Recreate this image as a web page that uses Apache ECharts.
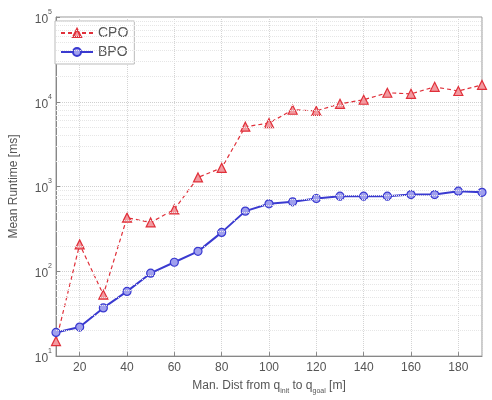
<!DOCTYPE html>
<html>
<head>
<meta charset="utf-8">
<script src="https://cdn.jsdelivr.net/npm/echarts@6/dist/echarts.min.js"></script>
<style>
  html, body { margin: 0; padding: 0; background: #fff; }
  #chart { width: 492px; height: 400px; }
</style>
</head>
<body>
<div id="chart"></div>
<script>
// Manhattan distance from start to goal [m]
const distances = [10, 20, 30, 40, 50, 60, 70, 80, 90, 100, 110, 120, 130, 140, 150, 160, 170, 180, 190];
// Mean runtime [ms]
const cpoRuntime = [15, 208, 53, 430, 377, 537, 1280, 1660, 5080, 5600, 8050, 7800, 9460, 10560, 12770, 12400, 15000, 13400, 15800];
const bpoRuntime = [19, 22, 37, 58, 95, 128, 172, 288, 513, 626, 660, 723, 769, 769, 770, 805, 805, 881, 855];
const seriesNames = ['CPO', 'BPO'];
const yMin = 10, yMax = 100000;

// minor log grid lines: 2..9 × each decade
const minorGrid = [];
for (let d = yMin; d < yMax; d *= 10) {
  for (let k = 2; k <= 9; k++) minorGrid.push({ yAxis: k * d });
}

const textColor = '#555';
const fontFamily = 'Liberation Sans, Arial, sans-serif';

const chart = echarts.init(document.getElementById('chart'), null, { renderer: 'canvas' });
chart.setOption({
  animation: false,
  backgroundColor: '#fff',
  textStyle: { fontFamily: fontFamily },
  grid: {
    left: 54, right: 10, top: 17, bottom: 43,
    show: true, borderColor: '#999', borderWidth: 1, backgroundColor: '#fff'
  },
  legend: {
    left: 55, top: 21, orient: 'vertical',
    itemWidth: 32, itemHeight: 10, itemGap: 5,
    padding: [5, 6, 5, 5],
    borderColor: '#bbb', borderWidth: 1, backgroundColor: '#fff',
    textStyle: { color: textColor, fontSize: 14, fontFamily: fontFamily },
    data: seriesNames
  },
  xAxis: {
    type: 'value', min: 10, max: 190,
    minInterval: 20, maxInterval: 20,
    axisLine: { show: true, lineStyle: { color: '#888' } },
    axisTick: { show: true, inside: true, length: 4, lineStyle: { color: '#888' } },
    axisLabel: { color: textColor, fontSize: 12, showMinLabel: false, showMaxLabel: false, margin: 6 },
    splitLine: { show: true, lineStyle: { color: '#d4d4d4', type: 'dotted' } },
    name: 'Man. Dist from q{sub|init} to q{sub|goal} [m]',
    nameLocation: 'middle', nameGap: 21,
    nameTextStyle: {
      color: textColor, fontSize: 12, fontFamily: fontFamily,
      verticalAlign: 'top', lineHeight: 14,
      rich: {
        sub: { fontSize: 7, lineHeight: 8, padding: [9, 0, 0, 0], verticalAlign: 'top', color: textColor, fontFamily: fontFamily }
      }
    }
  },
  yAxis: {
    type: 'log', logBase: 10, min: yMin, max: yMax,
    axisLine: { show: true, lineStyle: { color: '#888' } },
    axisTick: { show: true, inside: true, length: 4, lineStyle: { color: '#888' } },
    axisLabel: {
      margin: 4,
      formatter: function (v) {
        const e = Math.round(Math.log10(v));
        return '{b|10}{s|' + e + '}';
      },
      rich: {
        b: { fontSize: 12, color: textColor, padding: [5, 0, 0, 0], verticalAlign: 'top', fontFamily: fontFamily },
        s: { fontSize: 7, color: textColor, verticalAlign: 'top', fontFamily: fontFamily }
      }
    },
    splitLine: { show: true, lineStyle: { color: '#cfcfcf', type: 'dotted' } },
    name: 'Mean Runtime [ms]',
    nameLocation: 'middle', nameGap: 36, nameRotate: 90,
    nameTextStyle: { color: textColor, fontSize: 12, fontFamily: fontFamily }
  },
  series: [
    {
      name: seriesNames[0], type: 'line',
      data: distances.map((d, i) => [d, cpoRuntime[i]]),
      symbol: 'triangle', symbolSize: 9,
      lineStyle: { color: '#e0303a', width: 1.2, type: [4, 3] },
      itemStyle: { color: '#f29aa0', borderColor: '#e0303a', borderWidth: 1.2 },
      z: 3,
      markLine: {
        silent: true, symbol: 'none', animation: false,
        label: { show: false },
        lineStyle: { color: '#e6e6e6', type: 'dotted', width: 1 },
        data: minorGrid
      }
    },
    {
      name: seriesNames[1], type: 'line',
      data: distances.map((d, i) => [d, bpoRuntime[i]]),
      symbol: 'circle', symbolSize: 8,
      lineStyle: { color: '#3a3ad0', width: 2 },
      itemStyle: { color: '#a0a0ee', borderColor: '#3a3ad0', borderWidth: 1.2 },
      z: 4
    }
  ]
});
</script>
</body>
</html>
